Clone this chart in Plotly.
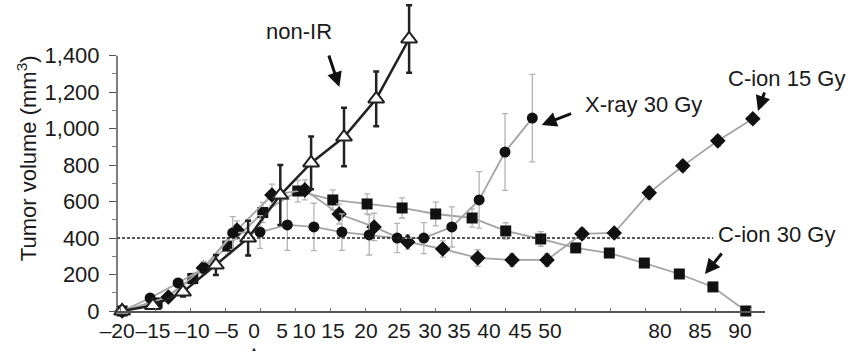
import plotly.graph_objects as go

# ---- data (x in chart day units, y in mm^3) ----
nonir_x = [-19.7, -15.3, -11.0, -6.3, -1.7, 2.9, 7.3, 12.0, 16.6, 21.3]
nonir_y = [0, 30, 104, 252, 400, 636, 812, 954, 1163, 1492]
nonir_err = [0, 12, 25, 55, 95, 165, 145, 160, 150, 185]

xray_x = [-19.7, -15.7, -11.7, -8.0, -3.9, 0.0, 3.9, 7.7, 11.7, 15.6, 19.6, 23.4, 27.4, 31.3, 35.0, 38.9]
xray_y = [0, 71, 154, 236, 428, 433, 472, 461, 433, 417, 400, 400, 461, 609, 872, 1058]
xray_err = [0, 20, 25, 35, 90, 90, 140, 130, 100, 110, 80, 85, 110, 155, 210, 240]

cion15_x = [-19.7, -13.1, -8.1, -3.3, 1.7, 6.4, 11.3, 16.3, 21.1, 26.1, 31.1, 36.0, 41.0, 46.0, 50.6, 55.6, 60.4, 65.4, 70.4]
cion15_y = [0, 77, 236, 444, 636, 664, 532, 461, 379, 340, 291, 280, 280, 423, 428, 648, 796, 933, 1054]
cion15_err = [0, 20, 30, 50, 60, 55, 55, 75, 40, 45, 45, 35, 35, 30, 25, 35, 30, 30, 25]

cion30_x = [-19.7, -14.7, -9.6, -4.6, 0.4, 5.4, 10.4, 15.3, 20.3, 25.1, 30.3, 35.1, 40.1, 45.1, 49.9, 54.9, 59.9, 64.7, 69.4]
cion30_y = [0, 44, 178, 356, 540, 658, 609, 587, 565, 532, 510, 439, 395, 346, 318, 263, 203, 132, 0]
cion30_err = [0, 20, 30, 45, 55, 60, 55, 55, 55, 65, 50, 45, 40, 25, 15, 15, 15, 20, 0]

threshold = 400

# tick marks (evenly spaced) and printed tick labels (placed as in the original figure)
tick_marks = [-20, -15, -10, -5, 0, 5, 10, 15, 20, 25, 30, 35, 40, 45, 50, 55, 60, 65, 70]
label_pos = [-20.40, -15.29, -9.71, -4.71, -0.86, 3.14, 6.29, 10.43, 15.14, 19.86,
             24.29, 28.43, 32.71, 37.14, 41.43, 57.14, 62.86, 68.57]
label_text = ["–20", "–15", "–10", "–5", "0", "5", "10", "15", "20", "25",
              "30", "35", "40", "45", "50", "80", "85", "90"]
y_ticks = [0, 200, 400, 600, 800, 1000, 1200, 1400]
y_minor = [100, 300, 500, 700, 900, 1100, 1300]

FONT = "Liberation Sans, Arial, Helvetica, sans-serif"
TXT = "#1a1a1a"
GRAY_LINE = "#a4a4a4"
GRAY_ERR = "#b4b4b4"

fig = go.Figure()

def treated(x, y, err, symbol, size, name):
    fig.add_trace(go.Scatter(
        x=x, y=y, mode="lines+markers", name=name,
        line=dict(color=GRAY_LINE, width=1.8),
        marker=dict(symbol=symbol, size=size, color="#111111",
                    line=dict(color="#111111", width=0)),
        error_y=dict(type="data", array=err, visible=True,
                     color=GRAY_ERR, thickness=1.3, width=3),
        cliponaxis=False, showlegend=False))

treated(cion30_x, cion30_y, cion30_err, "square", 11, "C-ion 30 Gy")
treated(cion15_x, cion15_y, cion15_err, "diamond", 12, "C-ion 15 Gy")
treated(xray_x, xray_y, xray_err, "circle", 11, "X-ray 30 Gy")

fig.add_trace(go.Scatter(
    x=nonir_x, y=nonir_y, mode="lines+markers", name="non-IR",
    line=dict(color="#222222", width=2.5),
    marker=dict(symbol="triangle-up", size=14, color="white",
                line=dict(color="#222222", width=2)),
    error_y=dict(type="data", array=nonir_err, visible=True,
                 color="#222222", thickness=2.5, width=3),
    cliponaxis=False, showlegend=False))

# threshold dashed line
fig.add_shape(type="line", xref="paper", yref="y", x0=0, x1=0.92,
              y0=threshold, y1=threshold,
              line=dict(color="#222222", width=1.5, dash="3px,2px"))
# y axis line up to 1,400
fig.add_shape(type="line", xref="paper", yref="y", x0=0, x1=0, y0=0, y1=1400,
              line=dict(color="#555555", width=1.5))

def label(text, x, y):
    fig.add_annotation(text=text, x=x, y=y, xref="paper", yref="paper",
                       showarrow=False, xanchor="center", yanchor="middle",
                       font=dict(family=FONT, size=22, color=TXT))

def arrow(x, y, ax, ay):
    fig.add_annotation(text="", x=x, y=y, xref="paper", yref="paper",
                       showarrow=True, ax=ax, ay=ay, arrowhead=2, arrowsize=1,
                       arrowwidth=3, arrowcolor="#111111", standoff=0)

label("non-IR", 0.2813, 0.9032)
arrow(0.3431, 0.7226, -11, -33)
label("X-ray 30 Gy", 0.8130, 0.6677)
arrow(0.6553, 0.6000, 31, -12)
label("C-ion 15 Gy", 1.0325, 0.7516)
arrow(0.9892, 0.6452, 7, -20)
label("C-ion 30 Gy", 1.0185, 0.2452)
arrow(0.9073, 0.1194, 18, -22)

fig.add_annotation(text="Tumor volume (mm<sup>3</sup>)", x=-0.1394, y=0.4919,
                   xref="paper", yref="paper", showarrow=False, textangle=-90,
                   xanchor="center", yanchor="middle",
                   font=dict(family=FONT, size=22, color=TXT))
fig.add_annotation(text="▲", x=0.2117, y=-0.122, xref="paper", yref="paper",
                   showarrow=False, xanchor="center", yanchor="middle",
                   font=dict(family=FONT, size=6, color=TXT))

fig.update_layout(
    width=852, height=352,
    margin=dict(l=117, r=87, t=1, b=41),
    paper_bgcolor="white", plot_bgcolor="white",
    font=dict(family=FONT, color=TXT),
    xaxis=dict(range=[-20.43, 72.14], showgrid=False, zeroline=False,
               automargin=False, tickangle=0,
               showline=True, linecolor="#555555", linewidth=1.5,
               tickmode="array", tickvals=label_pos, ticktext=label_text,
               ticks="", tickfont=dict(family=FONT, size=21, color=TXT),
               minor=dict(tickmode="array", tickvals=tick_marks, ticks="inside",
                          ticklen=3, tickcolor="#777777", tickwidth=1.2)),
    yaxis=dict(range=[0, 1700], showgrid=False, zeroline=False, showline=False,
               automargin=False,
               tickmode="array", tickvals=y_ticks, tickformat=",d",
               ticks="outside", ticklen=7, tickcolor="#555555", tickwidth=1.3,
               ticklabelstandoff=5,
               tickfont=dict(family=FONT, size=22, color=TXT),
               minor=dict(tickmode="array", tickvals=y_minor, ticks="outside",
                          ticklen=4, tickcolor="#777777", tickwidth=1)),
)

fig.write_html("out.html")
